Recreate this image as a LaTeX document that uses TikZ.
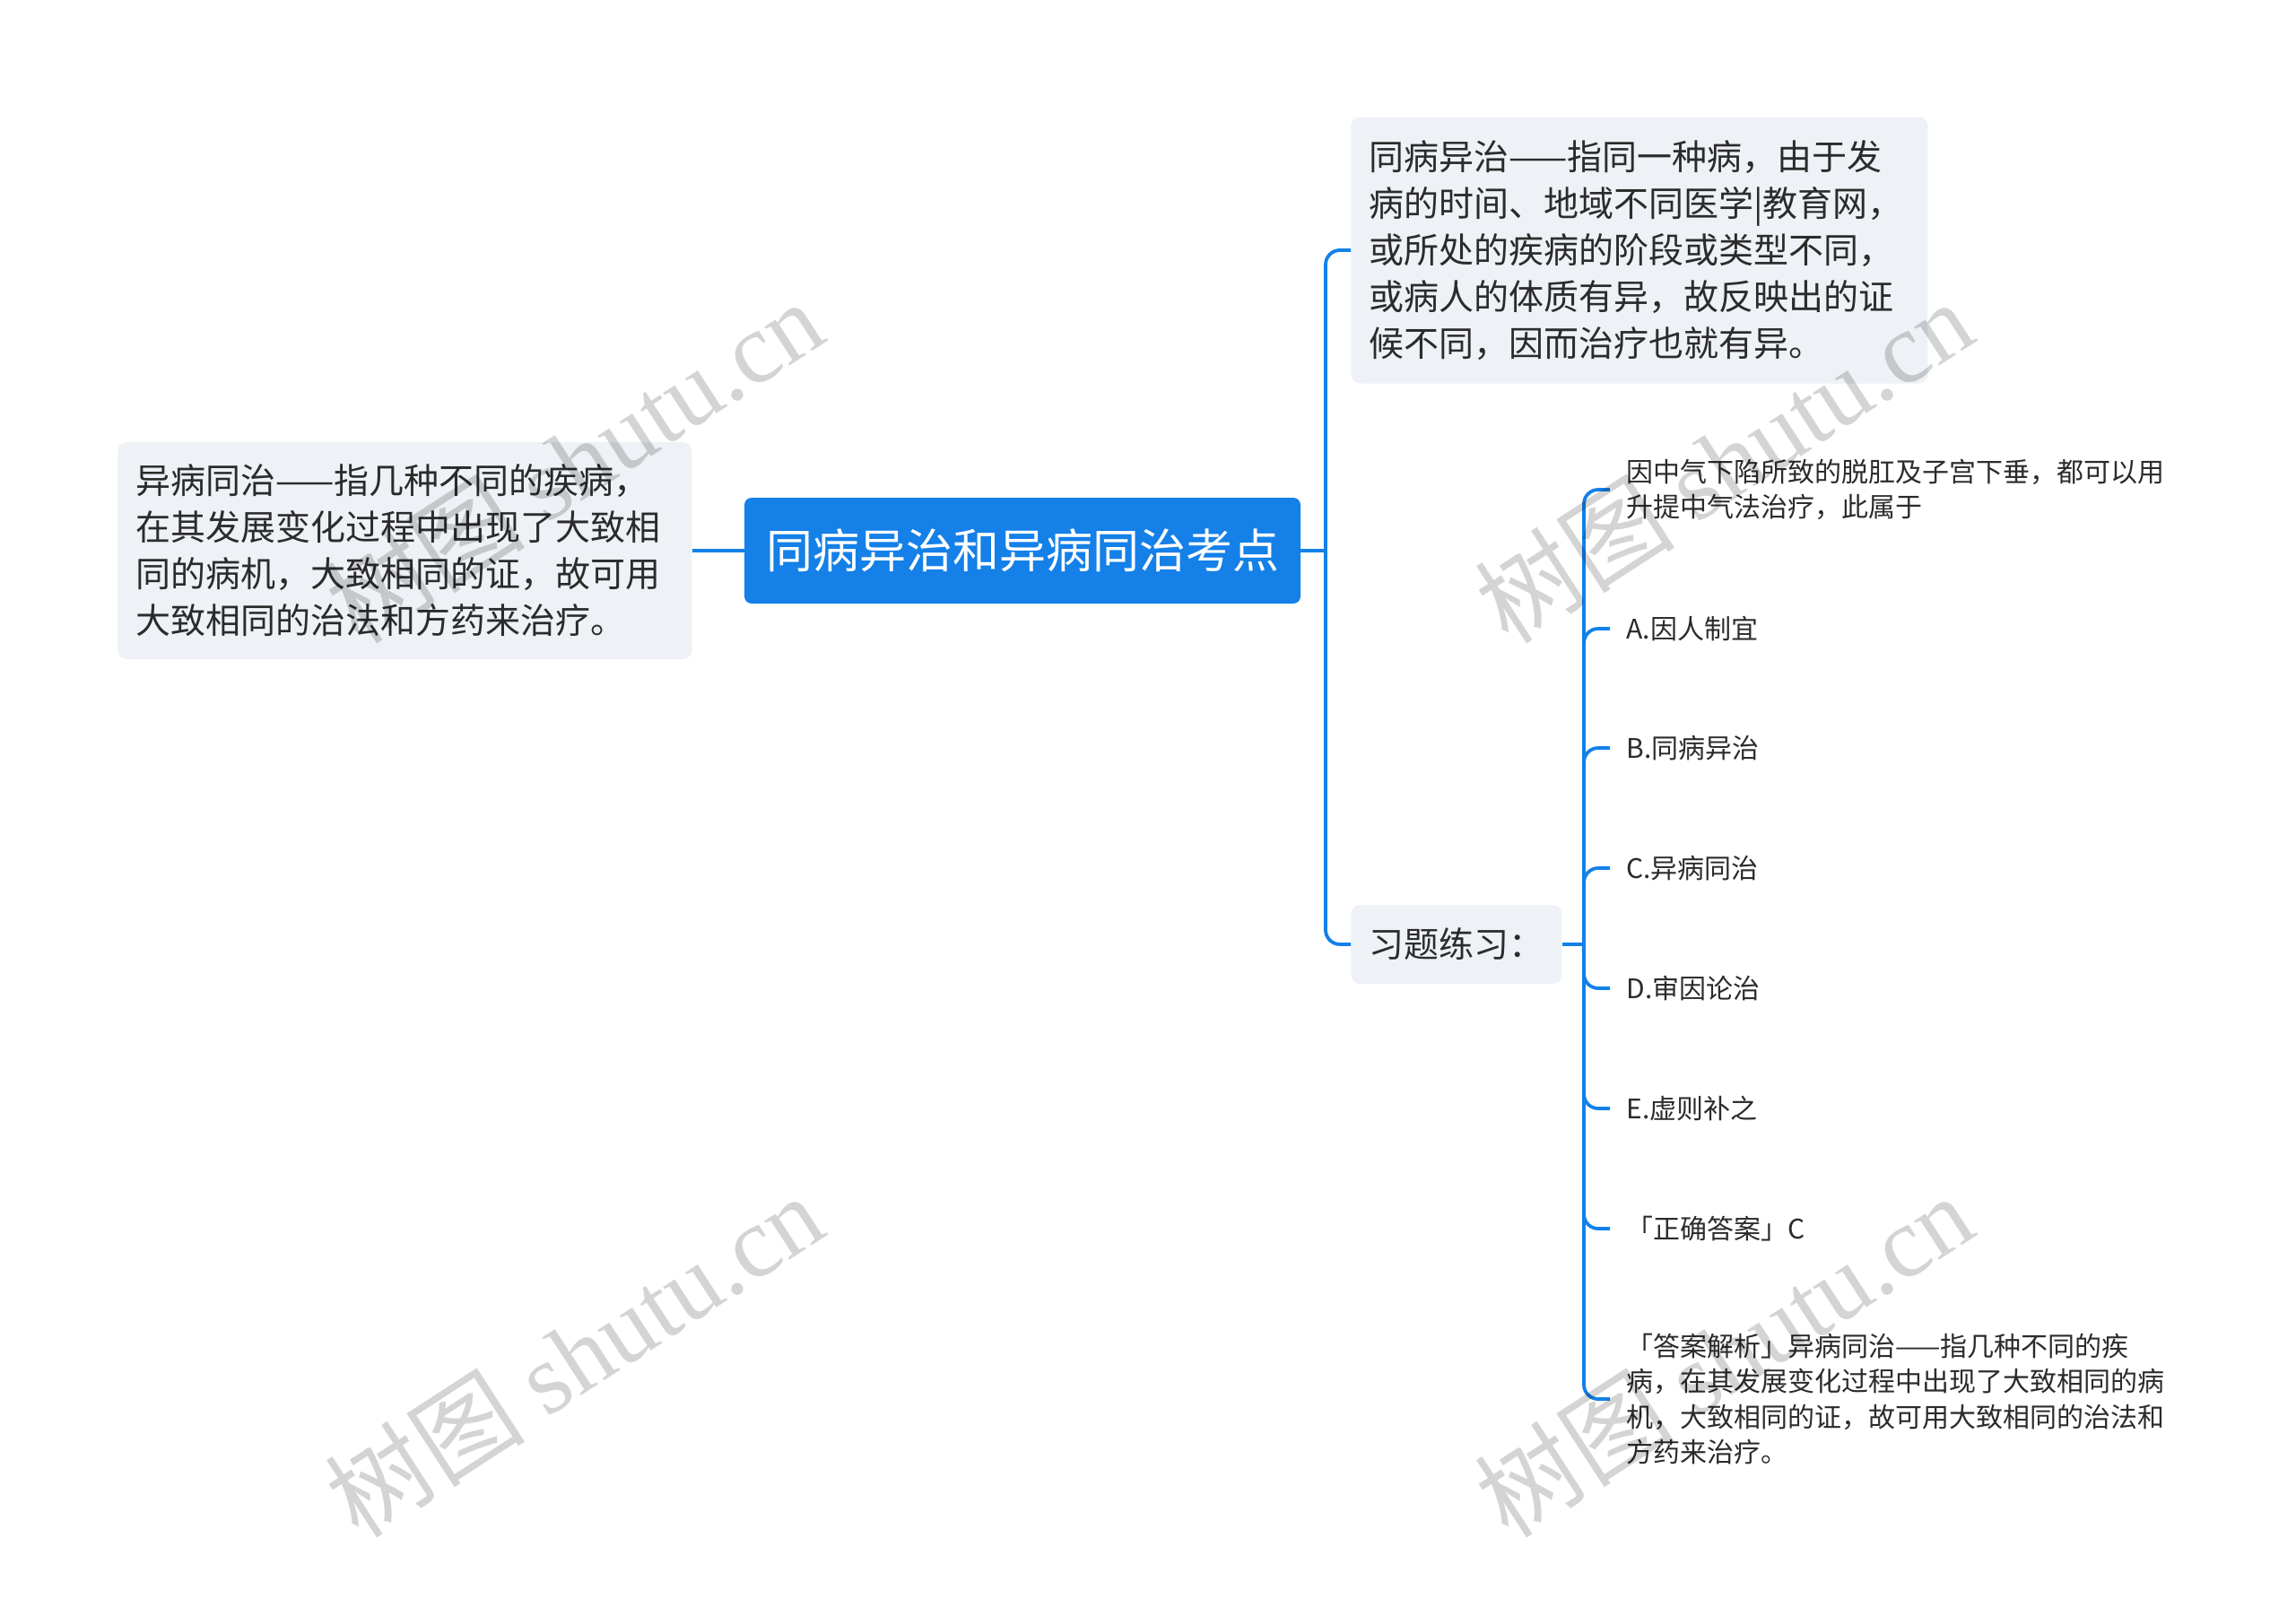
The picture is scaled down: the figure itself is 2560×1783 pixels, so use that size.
\documentclass[tikz,border=0pt]{standalone}
\usepackage{fontspec}
\setmainfont{Noto Sans CJK SC}
\newfontfamily\wmfont{Liberation Serif}
\definecolor{mapblue}{HTML}{1480E8}
\definecolor{boxgray}{HTML}{EEF1F5}
\definecolor{inkgray}{HTML}{2B2B2B}
\tikzset{
  topic/.style={fill=mapblue, text=white, rounded corners=4pt, minimum width=310pt, minimum height=59pt, font=\fontsize{26pt}{32pt}\selectfont},
  card/.style={fill=boxgray, text=inkgray, rounded corners=5pt, align=left, inner xsep=10pt, anchor=west, font=\fontsize{19.5pt}{26pt}\selectfont},
  leaf/.style={text=inkgray, align=left, inner xsep=9pt, anchor=west, font=\fontsize{15pt}{19.6pt}\selectfont},
  link/.style={draw=mapblue, line width=1.9pt, rounded corners=8pt},
  wmark/.style={rotate=33, text=black, text opacity=0.17, font=\fontsize{56pt}{60pt}\selectfont}
}
\begin{document}
\begin{tikzpicture}[x=0.5pt, y=-0.5pt]
            \useasboundingbox (0,0) rectangle (2560,1783);
            \fill[white] (0,0) rectangle (2560,1783);
            % main topic and the two cards
            \node[topic] (root) at (1140,614) {同病异治和异病同治考点};
            \node[card, text width=300pt, minimum height=121pt] (lbox) at (131,614) {异病同治——指几种不同的疾病，\\在其发展变化过程中出现了大致相\\同的病机，大致相同的证，故可用\\大致相同的治法和方药来治疗。};
            \node[card, text width=301.5pt, minimum height=148.5pt] (tbox) at (1506,279) {同病异治——指同一种病，由于发\\病的时间、地域不同医学|教育网，\\或所处的疾病的阶段或类型不同，\\或病人的体质有异，故反映出的证\\候不同，因而治疗也就有异。};
            \node[card, minimum width=116.5pt, minimum height=44pt] (qbox) at (1506,1053) {习题练习：};
            % exercise leaves
            \node[leaf] (q0) at (1795,546) {因中气下陷所致的脱肛及子宫下垂，都可以用\\升提中气法治疗，此属于};
            \node[leaf] (qa) at (1795,701) {A.因人制宜};
            \node[leaf] (qb) at (1795,834) {B.同病异治};
            \node[leaf] (qc) at (1795,968) {C.异病同治};
            \node[leaf] (qd) at (1795,1102) {D.审因论治};
            \node[leaf] (qe) at (1795,1236) {E.虚则补之};
            \node[leaf] (qk) at (1795,1370) {「正确答案」C};
            \node[leaf] (qx) at (1795,1560) {「答案解析」异病同治——指几种不同的疾\\病，在其发展变化过程中出现了大致相同的病\\机，大致相同的证，故可用大致相同的治法和\\方药来治疗。};
            % connectors
            \coordinate (rj) at (1478,614);
            \coordinate (qj) at (1766,1053);
            \draw[link] (lbox.east) -- (root.west);
            \draw[link] (root.east) -- (rj);
            \draw[link] (tbox.west) -| (rj) |- (qbox.west);
            \draw[link] (qbox.east) -- (qj);
            \foreach \leafname in {q0,qa,qb,qc,qd,qe,qk,qx}
              \draw[link] (qj) |- (\leafname.west);
            % watermarks
            \foreach \wx/\wy [count=\wi] in {640/514, 1922/514, 640/1511, 1922/1511}
              \node[wmark] (wm\wi) at (\wx,\wy) {树图 {\wmfont shutu.cn}};
        \end{tikzpicture}
\end{document}
